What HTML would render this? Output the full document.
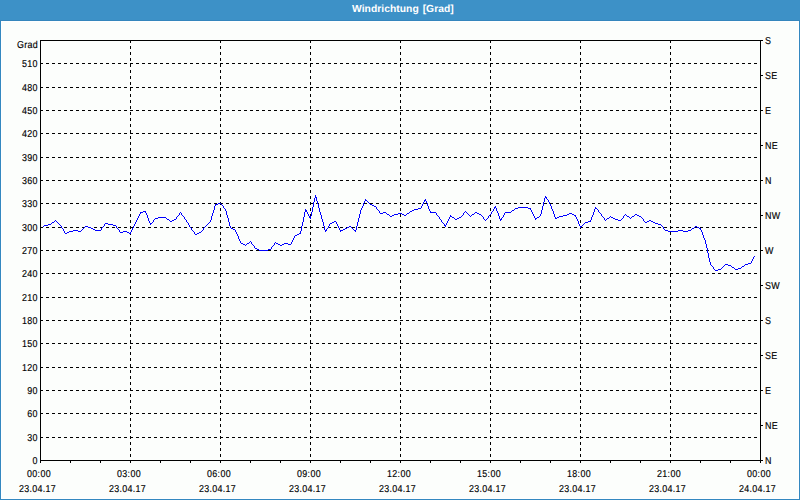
<!DOCTYPE html>
<html><head><meta charset="utf-8"><style>
html,body{margin:0;padding:0;width:800px;height:500px;overflow:hidden;background:#fcfefc}
.win{position:absolute;left:0;top:0;width:800px;height:500px;background:#3388c0}
.tb{position:absolute;left:0;top:0;width:800px;height:20px;background:#3d91c7}
.inner{position:absolute;left:1px;top:21px;width:796px;height:476px;background:#fcfefc;border:1px solid #ffffff;box-sizing:content-box}
.bar{position:absolute;left:0;top:20px;width:800px;height:1px;background:#3586bd}
.title{position:absolute;left:0;top:0;width:800px;height:20px;text-align:center;color:#fff;font:bold 10.3px "Liberation Sans",sans-serif;letter-spacing:0.04px;word-spacing:1px;text-rendering:geometricPrecision;}
svg{position:absolute;left:0;top:0}
.g{stroke:#000;stroke-width:1;stroke-dasharray:3 3;fill:none}
.a{stroke:#000;stroke-width:1;fill:none}
.d{stroke:#0000ff;stroke-width:1;fill:none}
text{font-family:"Liberation Sans",sans-serif;font-size:10px;fill:#000;stroke:#000;stroke-width:0.15px;letter-spacing:0.35px;text-rendering:geometricPrecision}
.r{text-anchor:end}
.c{text-anchor:middle}
</style></head><body>
<div class="win"></div>
<div class="tb"></div>
<div class="bar"></div>
<div class="inner"></div>
<div class="title"><span style="position:absolute;left:352px;top:4px;white-space:nowrap">Windrichtung [Grad]</span></div>
<svg width="800" height="500" viewBox="0 0 800 500">
<g shape-rendering="crispEdges">
<line x1="40" y1="437.5" x2="760" y2="437.5" class="g"/>
<line x1="40" y1="413.5" x2="760" y2="413.5" class="g"/>
<line x1="40" y1="390.5" x2="760" y2="390.5" class="g"/>
<line x1="40" y1="367.5" x2="760" y2="367.5" class="g"/>
<line x1="40" y1="343.5" x2="760" y2="343.5" class="g"/>
<line x1="40" y1="320.5" x2="760" y2="320.5" class="g"/>
<line x1="40" y1="297.5" x2="760" y2="297.5" class="g"/>
<line x1="40" y1="273.5" x2="760" y2="273.5" class="g"/>
<line x1="40" y1="250.5" x2="760" y2="250.5" class="g"/>
<line x1="40" y1="227.5" x2="760" y2="227.5" class="g"/>
<line x1="40" y1="203.5" x2="760" y2="203.5" class="g"/>
<line x1="40" y1="180.5" x2="760" y2="180.5" class="g"/>
<line x1="40" y1="157.5" x2="760" y2="157.5" class="g"/>
<line x1="40" y1="133.5" x2="760" y2="133.5" class="g"/>
<line x1="40" y1="110.5" x2="760" y2="110.5" class="g"/>
<line x1="40" y1="87.5" x2="760" y2="87.5" class="g"/>
<line x1="40" y1="63.5" x2="760" y2="63.5" class="g"/>
<line x1="130.5" y1="40" x2="130.5" y2="463" class="g"/>
<line x1="220.5" y1="40" x2="220.5" y2="463" class="g"/>
<line x1="310.5" y1="40" x2="310.5" y2="463" class="g"/>
<line x1="400.5" y1="40" x2="400.5" y2="463" class="g"/>
<line x1="490.5" y1="40" x2="490.5" y2="463" class="g"/>
<line x1="580.5" y1="40" x2="580.5" y2="463" class="g"/>
<line x1="670.5" y1="40" x2="670.5" y2="463" class="g"/>
<path d="M40.5 40 V463 M760.5 40 V463 M40 40.5 H763 M40 460.5 H763" class="a"/>
<line x1="40.5" y1="460" x2="40.5" y2="463" class="a"/>
<line x1="70.5" y1="460" x2="70.5" y2="463" class="a"/>
<line x1="100.5" y1="460" x2="100.5" y2="463" class="a"/>
<line x1="130.5" y1="460" x2="130.5" y2="463" class="a"/>
<line x1="160.5" y1="460" x2="160.5" y2="463" class="a"/>
<line x1="190.5" y1="460" x2="190.5" y2="463" class="a"/>
<line x1="220.5" y1="460" x2="220.5" y2="463" class="a"/>
<line x1="250.5" y1="460" x2="250.5" y2="463" class="a"/>
<line x1="280.5" y1="460" x2="280.5" y2="463" class="a"/>
<line x1="310.5" y1="460" x2="310.5" y2="463" class="a"/>
<line x1="340.5" y1="460" x2="340.5" y2="463" class="a"/>
<line x1="370.5" y1="460" x2="370.5" y2="463" class="a"/>
<line x1="400.5" y1="460" x2="400.5" y2="463" class="a"/>
<line x1="430.5" y1="460" x2="430.5" y2="463" class="a"/>
<line x1="460.5" y1="460" x2="460.5" y2="463" class="a"/>
<line x1="490.5" y1="460" x2="490.5" y2="463" class="a"/>
<line x1="520.5" y1="460" x2="520.5" y2="463" class="a"/>
<line x1="550.5" y1="460" x2="550.5" y2="463" class="a"/>
<line x1="580.5" y1="460" x2="580.5" y2="463" class="a"/>
<line x1="610.5" y1="460" x2="610.5" y2="463" class="a"/>
<line x1="640.5" y1="460" x2="640.5" y2="463" class="a"/>
<line x1="670.5" y1="460" x2="670.5" y2="463" class="a"/>
<line x1="700.5" y1="460" x2="700.5" y2="463" class="a"/>
<line x1="730.5" y1="460" x2="730.5" y2="463" class="a"/>
<line x1="760.5" y1="460" x2="760.5" y2="463" class="a"/>
<line x1="760" y1="40.5" x2="763" y2="40.5" class="a"/>
<line x1="760" y1="75.5" x2="763" y2="75.5" class="a"/>
<line x1="760" y1="110.5" x2="763" y2="110.5" class="a"/>
<line x1="760" y1="145.5" x2="763" y2="145.5" class="a"/>
<line x1="760" y1="180.5" x2="763" y2="180.5" class="a"/>
<line x1="760" y1="215.5" x2="763" y2="215.5" class="a"/>
<line x1="760" y1="250.5" x2="763" y2="250.5" class="a"/>
<line x1="760" y1="285.5" x2="763" y2="285.5" class="a"/>
<line x1="760" y1="320.5" x2="763" y2="320.5" class="a"/>
<line x1="760" y1="355.5" x2="763" y2="355.5" class="a"/>
<line x1="760" y1="390.5" x2="763" y2="390.5" class="a"/>
<line x1="760" y1="425.5" x2="763" y2="425.5" class="a"/>
<line x1="760" y1="460.5" x2="763" y2="460.5" class="a"/>
<path fill="#0000ff" d="M315 195h1v1h-1zM315 196h1v1h-1zM545 196h1v1h-1zM315 197h2v1h-2zM545 197h2v1h-2zM314 198h1v1h-1zM316 198h1v1h-1zM544 198h1v1h-1zM546 198h1v1h-1zM314 199h1v1h-1zM316 199h1v1h-1zM365 199h1v1h-1zM425 199h1v1h-1zM544 199h1v1h-1zM547 199h1v1h-1zM314 200h1v1h-1zM316 200h1v1h-1zM365 200h2v1h-2zM424 200h2v1h-2zM544 200h1v1h-1zM548 200h1v1h-1zM314 201h1v1h-1zM317 201h1v1h-1zM364 201h1v1h-1zM367 201h1v1h-1zM424 201h1v1h-1zM426 201h1v1h-1zM544 201h1v1h-1zM548 201h1v1h-1zM313 202h1v1h-1zM317 202h1v1h-1zM364 202h1v1h-1zM368 202h1v1h-1zM423 202h1v1h-1zM426 202h1v1h-1zM543 202h1v1h-1zM549 202h1v1h-1zM218 203h3v1h-3zM313 203h1v1h-1zM317 203h1v1h-1zM363 203h1v1h-1zM369 203h1v1h-1zM423 203h1v1h-1zM427 203h1v1h-1zM543 203h1v1h-1zM549 203h1v1h-1zM215 204h3v1h-3zM221 204h1v1h-1zM313 204h1v1h-1zM318 204h1v1h-1zM363 204h1v1h-1zM370 204h2v1h-2zM422 204h1v1h-1zM427 204h1v1h-1zM543 204h1v1h-1zM550 204h1v1h-1zM215 205h1v1h-1zM222 205h1v1h-1zM313 205h1v1h-1zM318 205h1v1h-1zM363 205h1v1h-1zM372 205h2v1h-2zM422 205h1v1h-1zM427 205h1v1h-1zM543 205h1v1h-1zM550 205h1v1h-1zM214 206h1v1h-1zM223 206h1v1h-1zM313 206h1v1h-1zM318 206h1v1h-1zM362 206h1v1h-1zM374 206h2v1h-2zM421 206h1v1h-1zM428 206h1v1h-1zM495 206h1v1h-1zM542 206h1v1h-1zM551 206h1v1h-1zM214 207h1v1h-1zM223 207h1v1h-1zM312 207h1v1h-1zM318 207h1v1h-1zM362 207h1v1h-1zM376 207h1v1h-1zM421 207h1v1h-1zM428 207h1v1h-1zM494 207h2v1h-2zM518 207h10v1h-10zM542 207h1v1h-1zM551 207h1v1h-1zM595 207h1v1h-1zM214 208h1v1h-1zM224 208h1v1h-1zM312 208h1v1h-1zM319 208h1v1h-1zM361 208h1v1h-1zM376 208h1v1h-1zM418 208h3v1h-3zM428 208h1v1h-1zM494 208h1v1h-1zM496 208h1v1h-1zM515 208h3v1h-3zM528 208h3v1h-3zM542 208h1v1h-1zM551 208h1v1h-1zM595 208h2v1h-2zM214 209h1v1h-1zM225 209h1v1h-1zM305 209h1v1h-1zM312 209h1v1h-1zM319 209h1v1h-1zM361 209h1v1h-1zM377 209h1v1h-1zM414 209h4v1h-4zM429 209h1v1h-1zM493 209h1v1h-1zM496 209h1v1h-1zM514 209h1v1h-1zM530 209h1v1h-1zM542 209h1v1h-1zM552 209h1v1h-1zM594 209h1v1h-1zM597 209h1v1h-1zM213 210h1v1h-1zM225 210h1v1h-1zM305 210h2v1h-2zM312 210h1v1h-1zM319 210h1v1h-1zM360 210h1v1h-1zM378 210h1v1h-1zM412 210h2v1h-2zM429 210h1v1h-1zM493 210h1v1h-1zM496 210h1v1h-1zM512 210h2v1h-2zM531 210h1v1h-1zM541 210h1v1h-1zM552 210h1v1h-1zM594 210h1v1h-1zM598 210h1v1h-1zM143 211h3v1h-3zM213 211h1v1h-1zM226 211h1v1h-1zM305 211h2v1h-2zM312 211h1v1h-1zM319 211h1v1h-1zM360 211h1v1h-1zM379 211h1v1h-1zM410 211h2v1h-2zM430 211h1v1h-1zM465 211h1v1h-1zM492 211h1v1h-1zM497 211h1v1h-1zM511 211h1v1h-1zM531 211h1v1h-1zM541 211h1v1h-1zM553 211h1v1h-1zM594 211h1v1h-1zM598 211h1v1h-1zM140 212h3v1h-3zM145 212h1v1h-1zM180 212h1v1h-1zM213 212h1v1h-1zM226 212h1v1h-1zM304 212h1v1h-1zM307 212h1v1h-1zM311 212h1v1h-1zM320 212h1v1h-1zM360 212h1v1h-1zM379 212h1v1h-1zM383 212h3v1h-3zM409 212h1v1h-1zM430 212h6v1h-6zM464 212h1v1h-1zM466 212h1v1h-1zM475 212h2v1h-2zM491 212h1v1h-1zM497 212h1v1h-1zM505 212h6v1h-6zM532 212h1v1h-1zM541 212h1v1h-1zM553 212h1v1h-1zM593 212h1v1h-1zM599 212h1v1h-1zM140 213h1v1h-1zM146 213h1v1h-1zM179 213h1v1h-1zM181 213h1v1h-1zM212 213h1v1h-1zM226 213h1v1h-1zM304 213h1v1h-1zM307 213h1v1h-1zM311 213h1v1h-1zM320 213h1v1h-1zM360 213h1v1h-1zM380 213h3v1h-3zM386 213h1v1h-1zM398 213h4v1h-4zM407 213h2v1h-2zM436 213h1v1h-1zM463 213h1v1h-1zM467 213h1v1h-1zM474 213h1v1h-1zM477 213h2v1h-2zM491 213h1v1h-1zM498 213h1v1h-1zM504 213h1v1h-1zM532 213h1v1h-1zM541 213h1v1h-1zM553 213h1v1h-1zM569 213h3v1h-3zM593 213h1v1h-1zM600 213h1v1h-1zM139 214h1v1h-1zM146 214h1v1h-1zM179 214h1v1h-1zM181 214h1v1h-1zM212 214h1v1h-1zM226 214h1v1h-1zM304 214h1v1h-1zM308 214h1v1h-1zM311 214h1v1h-1zM320 214h1v1h-1zM359 214h1v1h-1zM387 214h2v1h-2zM394 214h4v1h-4zM402 214h2v1h-2zM406 214h1v1h-1zM436 214h1v1h-1zM463 214h1v1h-1zM468 214h1v1h-1zM472 214h2v1h-2zM479 214h2v1h-2zM490 214h1v1h-1zM498 214h1v1h-1zM504 214h1v1h-1zM533 214h1v1h-1zM540 214h1v1h-1zM554 214h1v1h-1zM567 214h2v1h-2zM572 214h2v1h-2zM593 214h1v1h-1zM601 214h1v1h-1zM625 214h1v1h-1zM635 214h2v1h-2zM139 215h1v1h-1zM147 215h1v1h-1zM178 215h1v1h-1zM182 215h1v1h-1zM212 215h1v1h-1zM227 215h1v1h-1zM304 215h1v1h-1zM308 215h1v1h-1zM311 215h1v1h-1zM321 215h1v1h-1zM359 215h1v1h-1zM389 215h1v1h-1zM392 215h2v1h-2zM404 215h2v1h-2zM437 215h1v1h-1zM450 215h1v1h-1zM462 215h1v1h-1zM469 215h1v1h-1zM471 215h1v1h-1zM481 215h1v1h-1zM489 215h1v1h-1zM498 215h1v1h-1zM503 215h1v1h-1zM533 215h1v1h-1zM540 215h1v1h-1zM554 215h1v1h-1zM563 215h4v1h-4zM574 215h2v1h-2zM592 215h1v1h-1zM601 215h1v1h-1zM624 215h1v1h-1zM626 215h1v1h-1zM634 215h1v1h-1zM637 215h2v1h-2zM138 216h1v1h-1zM147 216h1v1h-1zM177 216h1v1h-1zM183 216h1v1h-1zM211 216h1v1h-1zM227 216h1v1h-1zM304 216h1v1h-1zM309 216h2v1h-2zM321 216h1v1h-1zM359 216h1v1h-1zM390 216h2v1h-2zM438 216h1v1h-1zM450 216h2v1h-2zM461 216h1v1h-1zM470 216h1v1h-1zM482 216h1v1h-1zM488 216h1v1h-1zM499 216h1v1h-1zM503 216h1v1h-1zM534 216h1v1h-1zM539 216h1v1h-1zM554 216h1v1h-1zM559 216h4v1h-4zM575 216h1v1h-1zM592 216h1v1h-1zM602 216h1v1h-1zM610 216h1v1h-1zM623 216h1v1h-1zM627 216h2v1h-2zM632 216h2v1h-2zM639 216h2v1h-2zM138 217h1v1h-1zM147 217h1v1h-1zM158 217h8v1h-8zM176 217h1v1h-1zM184 217h1v1h-1zM211 217h1v1h-1zM227 217h1v1h-1zM303 217h1v1h-1zM309 217h2v1h-2zM321 217h1v1h-1zM359 217h1v1h-1zM439 217h1v1h-1zM449 217h1v1h-1zM452 217h2v1h-2zM459 217h2v1h-2zM483 217h1v1h-1zM488 217h1v1h-1zM499 217h1v1h-1zM502 217h1v1h-1zM534 217h1v1h-1zM537 217h2v1h-2zM555 217h1v1h-1zM557 217h2v1h-2zM576 217h1v1h-1zM591 217h1v1h-1zM603 217h1v1h-1zM609 217h1v1h-1zM611 217h2v1h-2zM623 217h1v1h-1zM629 217h1v1h-1zM631 217h1v1h-1zM641 217h1v1h-1zM137 218h1v1h-1zM148 218h1v1h-1zM155 218h3v1h-3zM166 218h1v1h-1zM176 218h1v1h-1zM184 218h1v1h-1zM211 218h1v1h-1zM228 218h1v1h-1zM303 218h1v1h-1zM310 218h1v1h-1zM321 218h1v1h-1zM358 218h1v1h-1zM439 218h1v1h-1zM449 218h1v1h-1zM454 218h1v1h-1zM457 218h2v1h-2zM483 218h1v1h-1zM487 218h1v1h-1zM499 218h1v1h-1zM501 218h1v1h-1zM535 218h2v1h-2zM555 218h2v1h-2zM576 218h1v1h-1zM591 218h1v1h-1zM604 218h1v1h-1zM607 218h2v1h-2zM613 218h2v1h-2zM622 218h1v1h-1zM630 218h1v1h-1zM642 218h1v1h-1zM137 219h1v1h-1zM148 219h1v1h-1zM154 219h1v1h-1zM167 219h2v1h-2zM174 219h2v1h-2zM185 219h1v1h-1zM211 219h1v1h-1zM228 219h1v1h-1zM303 219h1v1h-1zM322 219h1v1h-1zM358 219h1v1h-1zM440 219h1v1h-1zM448 219h1v1h-1zM455 219h2v1h-2zM484 219h1v1h-1zM486 219h1v1h-1zM500 219h2v1h-2zM535 219h1v1h-1zM577 219h1v1h-1zM591 219h1v1h-1zM604 219h1v1h-1zM606 219h1v1h-1zM615 219h3v1h-3zM621 219h1v1h-1zM643 219h1v1h-1zM55 220h1v1h-1zM136 220h1v1h-1zM148 220h1v1h-1zM153 220h1v1h-1zM169 220h1v1h-1zM172 220h2v1h-2zM186 220h1v1h-1zM210 220h1v1h-1zM228 220h1v1h-1zM303 220h1v1h-1zM322 220h1v1h-1zM358 220h1v1h-1zM441 220h1v1h-1zM448 220h1v1h-1zM485 220h1v1h-1zM500 220h1v1h-1zM577 220h1v1h-1zM590 220h1v1h-1zM605 220h1v1h-1zM618 220h3v1h-3zM643 220h1v1h-1zM649 220h2v1h-2zM54 221h1v1h-1zM56 221h1v1h-1zM136 221h1v1h-1zM149 221h1v1h-1zM153 221h1v1h-1zM170 221h2v1h-2zM186 221h1v1h-1zM210 221h1v1h-1zM228 221h1v1h-1zM303 221h1v1h-1zM322 221h1v1h-1zM334 221h2v1h-2zM358 221h1v1h-1zM441 221h1v1h-1zM447 221h1v1h-1zM578 221h1v1h-1zM588 221h3v1h-3zM644 221h1v1h-1zM647 221h2v1h-2zM651 221h2v1h-2zM52 222h2v1h-2zM57 222h1v1h-1zM135 222h1v1h-1zM149 222h1v1h-1zM152 222h1v1h-1zM187 222h1v1h-1zM209 222h1v1h-1zM229 222h1v1h-1zM302 222h1v1h-1zM323 222h1v1h-1zM332 222h2v1h-2zM336 222h1v1h-1zM357 222h1v1h-1zM442 222h1v1h-1zM447 222h1v1h-1zM578 222h1v1h-1zM585 222h3v1h-3zM645 222h2v1h-2zM653 222h2v1h-2zM51 223h1v1h-1zM58 223h1v1h-1zM105 223h3v1h-3zM135 223h1v1h-1zM150 223h2v1h-2zM188 223h1v1h-1zM208 223h1v1h-1zM229 223h1v1h-1zM302 223h1v1h-1zM323 223h1v1h-1zM330 223h2v1h-2zM336 223h1v1h-1zM357 223h1v1h-1zM443 223h1v1h-1zM446 223h1v1h-1zM578 223h1v1h-1zM584 223h1v1h-1zM655 223h3v1h-3zM48 224h3v1h-3zM59 224h1v1h-1zM104 224h1v1h-1zM108 224h5v1h-5zM134 224h1v1h-1zM150 224h1v1h-1zM188 224h1v1h-1zM207 224h1v1h-1zM229 224h1v1h-1zM302 224h1v1h-1zM323 224h1v1h-1zM329 224h1v1h-1zM337 224h1v1h-1zM357 224h1v1h-1zM444 224h1v1h-1zM446 224h1v1h-1zM579 224h1v1h-1zM583 224h1v1h-1zM658 224h3v1h-3zM44 225h4v1h-4zM60 225h1v1h-1zM104 225h1v1h-1zM113 225h3v1h-3zM134 225h1v1h-1zM189 225h1v1h-1zM206 225h1v1h-1zM229 225h1v1h-1zM302 225h1v1h-1zM323 225h1v1h-1zM329 225h1v1h-1zM337 225h1v1h-1zM357 225h1v1h-1zM444 225h2v1h-2zM579 225h1v1h-1zM582 225h1v1h-1zM661 225h1v1h-1zM43 226h1v1h-1zM61 226h1v1h-1zM85 226h3v1h-3zM103 226h1v1h-1zM116 226h1v1h-1zM133 226h1v1h-1zM189 226h1v1h-1zM205 226h1v1h-1zM230 226h1v1h-1zM301 226h1v1h-1zM324 226h1v1h-1zM328 226h1v1h-1zM338 226h1v1h-1zM349 226h2v1h-2zM356 226h1v1h-1zM445 226h1v1h-1zM580 226h2v1h-2zM662 226h1v1h-1zM695 226h2v1h-2zM61 227h1v1h-1zM84 227h1v1h-1zM88 227h3v1h-3zM102 227h1v1h-1zM116 227h1v1h-1zM133 227h1v1h-1zM190 227h1v1h-1zM204 227h1v1h-1zM230 227h1v1h-1zM301 227h1v1h-1zM324 227h1v1h-1zM328 227h1v1h-1zM338 227h1v1h-1zM347 227h2v1h-2zM351 227h1v1h-1zM356 227h1v1h-1zM580 227h1v1h-1zM663 227h1v1h-1zM694 227h1v1h-1zM697 227h2v1h-2zM62 228h1v1h-1zM83 228h1v1h-1zM91 228h2v1h-2zM101 228h1v1h-1zM117 228h1v1h-1zM132 228h1v1h-1zM191 228h1v1h-1zM203 228h1v1h-1zM231 228h2v1h-2zM301 228h1v1h-1zM324 228h1v1h-1zM327 228h1v1h-1zM339 228h1v1h-1zM345 228h2v1h-2zM352 228h1v1h-1zM356 228h1v1h-1zM663 228h1v1h-1zM692 228h2v1h-2zM699 228h2v1h-2zM63 229h1v1h-1zM82 229h1v1h-1zM93 229h2v1h-2zM101 229h1v1h-1zM118 229h1v1h-1zM132 229h1v1h-1zM191 229h1v1h-1zM203 229h1v1h-1zM233 229h2v1h-2zM301 229h1v1h-1zM324 229h1v1h-1zM326 229h1v1h-1zM339 229h1v1h-1zM343 229h2v1h-2zM353 229h1v1h-1zM356 229h1v1h-1zM664 229h1v1h-1zM691 229h1v1h-1zM700 229h1v1h-1zM63 230h1v1h-1zM73 230h5v1h-5zM81 230h1v1h-1zM95 230h6v1h-6zM119 230h1v1h-1zM131 230h1v1h-1zM192 230h1v1h-1zM202 230h1v1h-1zM235 230h1v1h-1zM301 230h1v1h-1zM325 230h2v1h-2zM340 230h3v1h-3zM354 230h2v1h-2zM665 230h3v1h-3zM678 230h5v1h-5zM688 230h3v1h-3zM701 230h1v1h-1zM64 231h1v1h-1zM69 231h4v1h-4zM78 231h3v1h-3zM119 231h1v1h-1zM123 231h4v1h-4zM131 231h1v1h-1zM193 231h1v1h-1zM201 231h1v1h-1zM235 231h1v1h-1zM300 231h1v1h-1zM325 231h1v1h-1zM340 231h1v1h-1zM355 231h1v1h-1zM668 231h10v1h-10zM683 231h5v1h-5zM701 231h1v1h-1zM64 232h1v1h-1zM67 232h2v1h-2zM120 232h3v1h-3zM127 232h2v1h-2zM130 232h1v1h-1zM194 232h1v1h-1zM199 232h2v1h-2zM236 232h1v1h-1zM300 232h1v1h-1zM702 232h1v1h-1zM65 233h2v1h-2zM129 233h2v1h-2zM194 233h1v1h-1zM197 233h2v1h-2zM236 233h1v1h-1zM299 233h2v1h-2zM702 233h1v1h-1zM195 234h2v1h-2zM237 234h1v1h-1zM297 234h2v1h-2zM702 234h1v1h-1zM237 235h1v1h-1zM295 235h2v1h-2zM703 235h1v1h-1zM238 236h1v1h-1zM294 236h1v1h-1zM703 236h1v1h-1zM238 237h1v1h-1zM294 237h1v1h-1zM703 237h1v1h-1zM238 238h1v1h-1zM293 238h1v1h-1zM704 238h1v1h-1zM239 239h1v1h-1zM293 239h1v1h-1zM704 239h1v1h-1zM239 240h1v1h-1zM292 240h1v1h-1zM705 240h1v1h-1zM240 241h1v1h-1zM250 241h1v1h-1zM292 241h1v1h-1zM705 241h1v1h-1zM240 242h1v1h-1zM249 242h1v1h-1zM251 242h1v1h-1zM275 242h1v1h-1zM291 242h1v1h-1zM705 242h1v1h-1zM241 243h2v1h-2zM247 243h2v1h-2zM251 243h1v1h-1zM274 243h1v1h-1zM276 243h2v1h-2zM284 243h4v1h-4zM291 243h1v1h-1zM705 243h1v1h-1zM243 244h2v1h-2zM246 244h1v1h-1zM252 244h1v1h-1zM274 244h1v1h-1zM278 244h2v1h-2zM282 244h2v1h-2zM288 244h3v1h-3zM706 244h1v1h-1zM245 245h1v1h-1zM253 245h1v1h-1zM273 245h1v1h-1zM280 245h2v1h-2zM706 245h1v1h-1zM254 246h1v1h-1zM272 246h1v1h-1zM706 246h1v1h-1zM254 247h1v1h-1zM271 247h1v1h-1zM706 247h1v1h-1zM255 248h2v1h-2zM271 248h1v1h-1zM707 248h1v1h-1zM257 249h2v1h-2zM268 249h3v1h-3zM707 249h1v1h-1zM259 250h9v1h-9zM707 250h1v1h-1zM707 251h1v1h-1zM707 252h1v1h-1zM708 253h1v1h-1zM708 254h1v1h-1zM708 255h1v1h-1zM708 256h1v1h-1zM754 256h1v1h-1zM708 257h1v1h-1zM753 257h1v1h-1zM709 258h1v1h-1zM753 258h1v1h-1zM709 259h1v1h-1zM752 259h1v1h-1zM709 260h1v1h-1zM752 260h1v1h-1zM709 261h1v1h-1zM751 261h1v1h-1zM710 262h1v1h-1zM751 262h1v1h-1zM710 263h1v1h-1zM748 263h3v1h-3zM710 264h1v1h-1zM725 264h3v1h-3zM745 264h3v1h-3zM711 265h1v1h-1zM724 265h1v1h-1zM728 265h3v1h-3zM744 265h1v1h-1zM712 266h1v1h-1zM723 266h1v1h-1zM731 266h1v1h-1zM742 266h2v1h-2zM713 267h1v1h-1zM722 267h1v1h-1zM732 267h2v1h-2zM741 267h1v1h-1zM713 268h1v1h-1zM721 268h1v1h-1zM734 268h1v1h-1zM738 268h3v1h-3zM714 269h1v1h-1zM718 269h3v1h-3zM735 269h3v1h-3zM715 270h3v1h-3z"/>
</g>
<g>
<text transform="translate(38 47.5) scale(0.89 1)" class="r">Grad</text>
<text transform="translate(37.8 463.5) scale(0.89 1)" class="r">0</text>
<text transform="translate(37.8 440.5) scale(0.89 1)" class="r">30</text>
<text transform="translate(37.8 416.5) scale(0.89 1)" class="r">60</text>
<text transform="translate(37.8 393.5) scale(0.89 1)" class="r">90</text>
<text transform="translate(37.8 370.5) scale(0.89 1)" class="r">120</text>
<text transform="translate(37.8 346.5) scale(0.89 1)" class="r">150</text>
<text transform="translate(37.8 323.5) scale(0.89 1)" class="r">180</text>
<text transform="translate(37.8 300.5) scale(0.89 1)" class="r">210</text>
<text transform="translate(37.8 276.5) scale(0.89 1)" class="r">240</text>
<text transform="translate(37.8 253.5) scale(0.89 1)" class="r">270</text>
<text transform="translate(37.8 230.5) scale(0.89 1)" class="r">300</text>
<text transform="translate(37.8 206.5) scale(0.89 1)" class="r">330</text>
<text transform="translate(37.8 183.5) scale(0.89 1)" class="r">360</text>
<text transform="translate(37.8 160.5) scale(0.89 1)" class="r">390</text>
<text transform="translate(37.8 136.5) scale(0.89 1)" class="r">420</text>
<text transform="translate(37.8 113.5) scale(0.89 1)" class="r">450</text>
<text transform="translate(37.8 90.5) scale(0.89 1)" class="r">480</text>
<text transform="translate(37.8 66.5) scale(0.89 1)" class="r">510</text>
<text transform="translate(765 43.5) scale(0.89 1)">S</text>
<text transform="translate(765 78.5) scale(0.89 1)">SE</text>
<text transform="translate(765 113.5) scale(0.89 1)">E</text>
<text transform="translate(765 148.5) scale(0.89 1)">NE</text>
<text transform="translate(765 183.5) scale(0.89 1)">N</text>
<text transform="translate(765 218.5) scale(0.89 1)">NW</text>
<text transform="translate(765 253.5) scale(0.89 1)">W</text>
<text transform="translate(765 288.5) scale(0.89 1)">SW</text>
<text transform="translate(765 323.5) scale(0.89 1)">S</text>
<text transform="translate(765 358.5) scale(0.89 1)">SE</text>
<text transform="translate(765 393.5) scale(0.89 1)">E</text>
<text transform="translate(765 428.5) scale(0.89 1)">NE</text>
<text transform="translate(765 463.5) scale(0.89 1)">N</text>
<text transform="translate(39 477) scale(0.89 1)" class="c">00:00</text>
<text transform="translate(37.5 492) scale(0.89 1)" class="c">23.04.17</text>
<text transform="translate(129 477) scale(0.89 1)" class="c">03:00</text>
<text transform="translate(127.5 492) scale(0.89 1)" class="c">23.04.17</text>
<text transform="translate(219 477) scale(0.89 1)" class="c">06:00</text>
<text transform="translate(217.5 492) scale(0.89 1)" class="c">23.04.17</text>
<text transform="translate(309 477) scale(0.89 1)" class="c">09:00</text>
<text transform="translate(307.5 492) scale(0.89 1)" class="c">23.04.17</text>
<text transform="translate(399 477) scale(0.89 1)" class="c">12:00</text>
<text transform="translate(397.5 492) scale(0.89 1)" class="c">23.04.17</text>
<text transform="translate(489 477) scale(0.89 1)" class="c">15:00</text>
<text transform="translate(487.5 492) scale(0.89 1)" class="c">23.04.17</text>
<text transform="translate(579 477) scale(0.89 1)" class="c">18:00</text>
<text transform="translate(577.5 492) scale(0.89 1)" class="c">23.04.17</text>
<text transform="translate(669 477) scale(0.89 1)" class="c">21:00</text>
<text transform="translate(667.5 492) scale(0.89 1)" class="c">23.04.17</text>
<text transform="translate(759 477) scale(0.89 1)" class="c">00:00</text>
<text transform="translate(757.5 492) scale(0.89 1)" class="c">24.04.17</text>
</g>
</svg>
</body></html>
